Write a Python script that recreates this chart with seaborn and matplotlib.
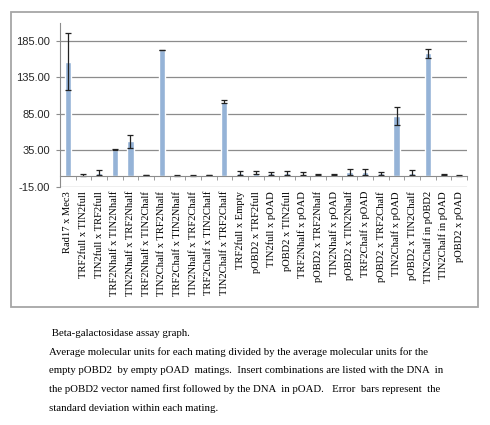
import numpy as np
import pandas as pd
import seaborn as sns
import matplotlib.pyplot as plt
from matplotlib.patches import Rectangle
from matplotlib.ticker import FixedLocator, FormatStrFormatter

# Mating combinations (pOBD2 insert x pOAD insert)
matings = [
    'Rad17 x Mec3', 'TRF2full x TIN2full', 'TIN2full x TRF2full',
    'TRF2Nhalf x TIN2Nhalf', 'TIN2Nhalf x TRF2Nhalf', 'TRF2Nhalf x TIN2Chalf',
    'TIN2Chalf x TRF2Nhalf', 'TRF2Chalf x TIN2Nhalf', 'TIN2Nhalf x TRF2Chalf',
    'TRF2Chalf x TIN2Chalf', 'TIN2Chalf x TRF2Chalf', 'TRF2full x Empty',
    'pOBD2 x TRF2full', 'TIN2full x pOAD', 'pOBD2 x TIN2full',
    'TRF2Nhalf x pOAD', 'pOBD2 x TRF2Nhalf', 'TIN2Nhalf x pOAD',
    'pOBD2 x TIN2Nhalf', 'TRF2Chalf x pOAD', 'pOBD2 x TRF2Chalf',
    'TIN2Chalf x pOAD', 'pOBD2 x TIN2Chalf', 'TIN2Chalf in pOBD2',
    'TIN2Chalf in pOAD', 'pOBD2 x pOAD',
]
# relative units
units = [156.5, 1.5, 4.3, 36.0, 47.5, 0.8, 172.5, 0.5, 0.5, 1.2, 101.5, 3.7,
         4.3, 3.4, 3.4, 3.0, 1.5, 1.8, 5.2, 5.5, 3.4, 82.0, 4.3, 168.0, 2.0, 0.5]
std_dev = [39.0, 1.5, 3.5, 0.4, 9.0, 0.3, 0.5, 0.3, 0.3, 0.5, 2.3, 2.3,
           2.0, 2.0, 2.5, 1.8, 0.5, 0.5, 3.9, 4.1, 2.0, 12.0, 3.2, 6.5, 0.5, 0.3]
y_ticks = [-15, 35, 85, 135, 185]

caption = [
    ' Beta-galactosidase assay graph.',
    'Average molecular units for each mating divided by the average molecular units for the',
    'empty pOBD2  by empty pOAD  matings.  Insert combinations are listed with the DNA  in',
    'the pOBD2 vector named first followed by the DNA  in pOAD.   Error  bars represent  the',
    'standard deviation within each mating.',
]

df = pd.DataFrame({'mating': matings, 'units': units, 'sd': std_dev})

sns.set_style('white')
fig = plt.figure(figsize=(4.9, 4.25), dpi=100)

# chart frame like the spreadsheet chart object
fig.patches.append(Rectangle((11 / 490, 1 - 307 / 425), 467 / 490, 295 / 425,
                             transform=fig.transFigure, fill=False,
                             edgecolor='#a6a6a6', linewidth=1.3))

ax = fig.add_axes([60 / 490, 1 - 186.7 / 425, 407 / 490, 164 / 425])
sns.barplot(data=df, x='mating', y='units', color='#95b3d7', saturation=1,
            width=0.4, ax=ax)
ax.errorbar(np.arange(len(df)), df['units'], yerr=df['sd'], fmt='none',
            ecolor='#222222', elinewidth=0.9, capsize=2.2, capthick=0.9)

ax.set_xlim(-0.5, len(df) - 0.5)
ax.set_ylim(-15, 210)
ax.yaxis.set_major_locator(FixedLocator(y_ticks))
ax.yaxis.set_major_formatter(FormatStrFormatter('%.2f'))
ax.grid(axis='y', color='#8c8c8c', linewidth=0.9)
ax.set_axisbelow(True)
ax.set_xlabel('')
ax.set_ylabel('')

for side in ['top', 'right']:
    ax.spines[side].set_visible(False)
ax.spines['left'].set_color('#8c8c8c')
ax.spines['bottom'].set_position(('data', 0))
ax.spines['bottom'].set_color('#8c8c8c')

ax.tick_params(axis='y', direction='out', length=3, color='#8c8c8c',
               labelsize=8, labelcolor='#262626', pad=4, left=True)
for lab in ax.get_yticklabels():
    lab.set_family('Liberation Sans')

ax.set_xticks(np.arange(len(df)))
ax.set_xticklabels(matings, rotation=90, family='Liberation Serif',
                   fontsize=7.6, color='#000000')
ax.tick_params(axis='x', which='major', length=0, pad=11)
ax.set_xticks(np.arange(len(df) + 1) - 0.5, minor=True)
ax.tick_params(axis='x', which='minor', direction='out', length=3,
               color='#8c8c8c', bottom=True)

y0 = 333
for line in caption:
    fig.text(49 / 490, 1 - y0 / 425, line, family='Liberation Serif',
             fontsize=7.75, color='#000000', va='center', ha='left')
    y0 += 18.8

fig.savefig('out.png', dpi=100)
